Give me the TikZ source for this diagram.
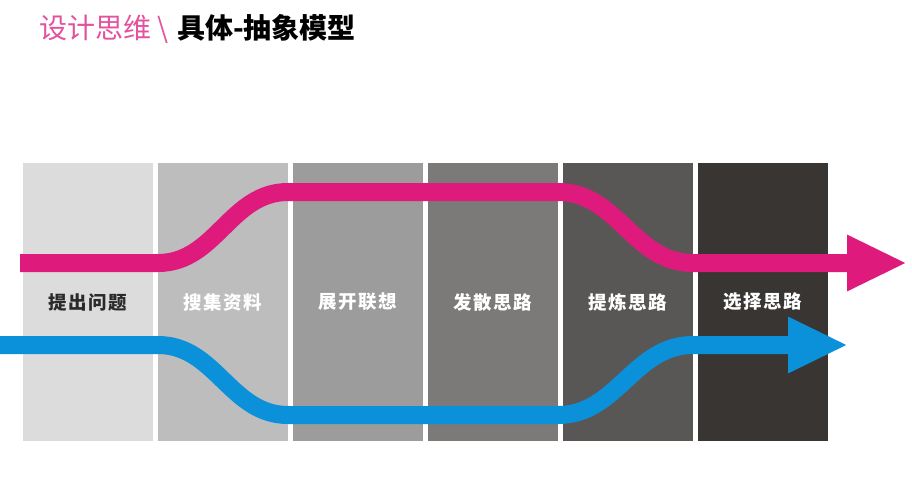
\documentclass[tikz,border=0pt]{standalone}
\usepackage{fontspec}
\setmainfont{Noto Sans CJK SC}
\newfontfamily\stagefont[LetterSpace=8]{Noto Sans CJK SC}
\usepackage{tikz}
\usetikzlibrary{positioning,arrows.meta}
\definecolor{flowpink}{HTML}{DE1A7D}
\definecolor{titlepink}{HTML}{E2529E}
\definecolor{flowblue}{HTML}{0B90DA}
\definecolor{greyA}{HTML}{DCDCDC}
\definecolor{greyB}{HTML}{BDBDBD}
\definecolor{greyC}{HTML}{9D9C9C}
\definecolor{greyD}{HTML}{7B7A79}
\definecolor{greyE}{HTML}{595756}
\definecolor{greyF}{HTML}{383533}
\definecolor{darktext}{HTML}{2A2A2A}
\tikzset{
  stage/.style={minimum width=130pt, minimum height=278pt, inner sep=0pt, outer sep=0pt, text=white, font=\stagefont\bfseries\fontsize{18.5}{20}\selectfont},
  band/.style={line width=18pt, -{Triangle[length=60pt, width=52pt]}}
}

\begin{document}
\begin{tikzpicture}[x=1pt, y=-1pt, node distance=5pt]
  \useasboundingbox (0,0) rectangle (912,479);
  \node[anchor=west, inner sep=0pt, font=\fontsize{28}{30}\selectfont] (title) at (39,29) {\textcolor{titlepink}{设计思维\hspace{6pt}\textbackslash\hspace{9pt}}\textbf{具体-抽象模型}};

  \node[stage, fill=greyA, text=darktext, anchor=north west] (ask) at (23,163) {提出问题};
  \node[stage, fill=greyB, right=of ask] (gather) {搜集资料};
  \node[stage, fill=greyC, right=of gather] (associate) {展开联想};
  \node[stage, fill=greyD, right=of associate] (diverge) {发散思路};
  \node[stage, fill=greyE, right=of diverge] (refine) {提炼思路};
  \node[stage, fill=greyF, right=of refine] (choose) {选择思路};

  \coordinate (pinkIn) at (20,263);
  \coordinate (pinkTop) at (0,192);
  \coordinate (pinkOut) at (907,263);
  \coordinate (blueIn) at (0,345);
  \coordinate (blueLow) at (0,415);
  \coordinate (blueOut) at (848,345);
  \draw[band, flowpink] (pinkIn) -- (gather.west |- pinkIn) to[out=0, in=180] (gather.east |- pinkTop) -- (diverge.east |- pinkTop) to[out=0, in=180] (refine.east |- pinkOut) -- (pinkOut);
  \draw[band, flowblue] (blueIn) -- (gather.west |- blueIn) to[out=0, in=180] (gather.east |- blueLow) -- (diverge.east |- blueLow) to[out=0, in=180] (refine.east |- blueIn) -- (blueOut);

\end{tikzpicture}
\end{document}
